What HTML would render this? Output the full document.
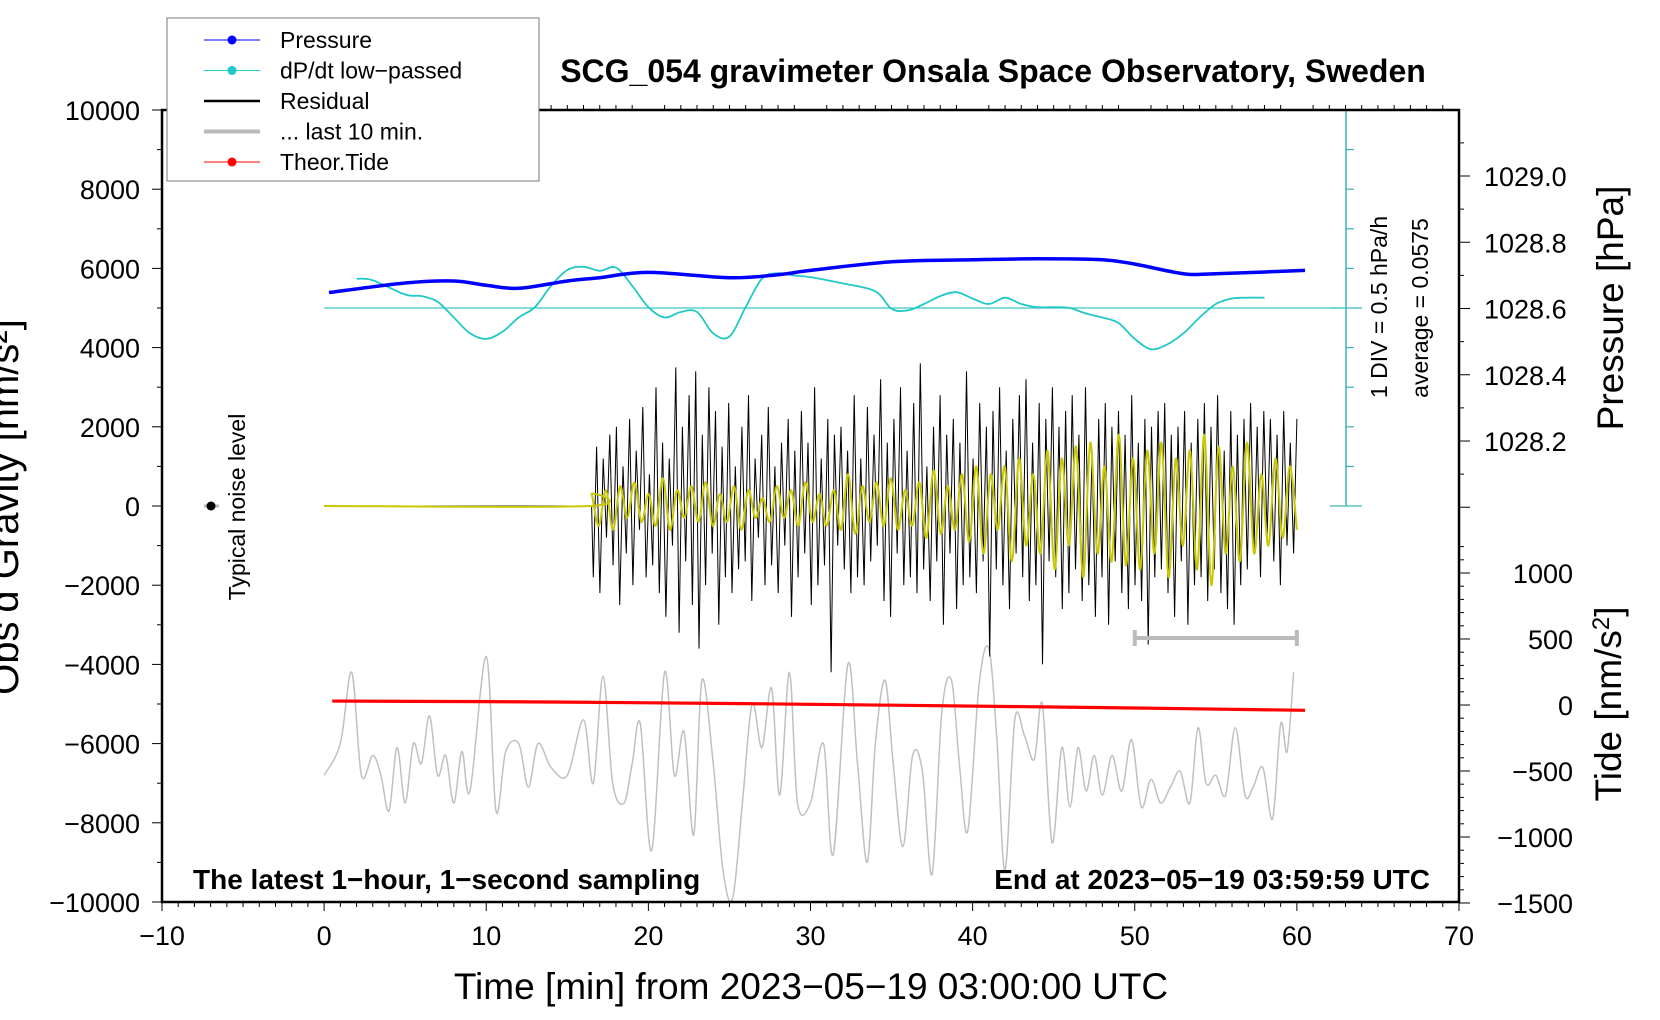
<!DOCTYPE html>
<html><head><meta charset="utf-8"><style>
html,body{margin:0;padding:0;background:#fff;}
svg{display:block;font-family:"Liberation Sans",Arial,sans-serif;}
</style></head><body>
<svg id="chart" width="1660" height="1020" viewBox="0 0 1660 1020"></svg>
<script>
// ---- data ----
const pressT = [0.3,5,8,10,12,15,17,20,25,28,30,35,40,44,48,50,53,55,60.5];
const pressV = [1028.648,1028.677,1028.683,1028.670,1028.661,1028.683,1028.693,1028.709,1028.693,1028.702,1028.715,1028.741,1028.747,1028.750,1028.747,1028.734,1028.705,1028.705,1028.715];
const dpdtT = [2,3,5,6,7,8,9,10,11,12,13,14,15,16,17,18,19,20,21,22,23,24,25,26,27,28,29,30,32,34,35,36,37,38,39,40,41,42,43,44,45,46,47,48,49,50,51,52,53,54,55,56,57,58];
const dpdtV = [0.37,0.35,0.17,0.15,0.08,-0.12,-0.32,-0.39,-0.30,-0.12,0.01,0.28,0.48,0.52,0.47,0.51,0.28,0.01,-0.12,-0.05,-0.05,-0.32,-0.36,0.01,0.37,0.44,0.41,0.39,0.31,0.21,-0.01,-0.03,0.05,0.15,0.20,0.12,0.05,0.13,0.05,0.01,0.01,0,-0.07,-0.12,-0.19,-0.39,-0.52,-0.46,-0.32,-0.12,0.05,0.12,0.13,0.13];
const residStart = 16.6, residEnd = 60.0;
const residV = [-18,15,-22,12,-8,18,-15,20,-25,10,-12,22,-20,14,-6,25,-18,8,-15,30,-22,16,-28,12,-10,35,-32,20,-14,28,-25,34,-36,18,-20,30,-12,24,-30,15,-18,26,-22,10,-16,20,-14,28,-24,12,-8,18,-20,25,-15,10,-22,16,-10,22,-28,14,-18,24,-12,16,-25,30,-20,12,-15,22,-42,18,-10,20,-16,14,-22,28,-18,12,-20,25,-14,18,-10,32,-24,16,-28,22,-12,30,-20,14,-18,26,-22,36,-16,10,-24,20,-14,28,-30,18,-12,22,-26,16,-20,34,-18,12,-22,26,-14,20,-38,24,-16,30,-20,14,-26,22,-12,28,-18,32,-24,16,-20,26,-40,22,-14,30,-18,20,-26,24,-22,28,-16,18,-24,30,-20,14,-28,22,-18,26,-30,20,-14,24,-22,18,-26,28,-20,16,-24,22,-35,20,-18,24,-16,26,-22,18,-28,20,-14,24,-30,16,-20,22,-18,26,-24,20,-16,28,-22,14,-26,24,-30,18,-20,22,-16,26,-12,20,-18,24,-8,22,-14,18,-20,24,-10,16,-12,22];
const lowV = [3,-5,4,-6,5,-3,6,-4,3,-5,7,-6,4,-3,5,-4,6,-5,3,-4,5,-6,4,-3,2,-4,5,-3,4,-5,6,-4,3,-5,4,-6,8,-7,5,-4,6,-5,7,-6,4,-5,6,-8,9,-7,5,-6,8,-9,10,-12,8,-6,10,-14,12,-10,8,-12,14,-16,12,-10,15,-18,16,-12,10,-14,18,-15,12,-16,14,-12,16,-18,12,-10,14,-16,18,-20,15,-12,10,-14,16,-12,8,-10,12,-8,10,-6];
const grayT = [0,1,1.7,2.3,3,3.5,4,4.5,5,5.5,6,6.5,7,7.5,8,8.5,9,10,10.6,11.2,12,12.6,13.2,14,15,16,16.6,17.2,17.8,18.5,19,19.5,20.2,21,21.6,22.2,22.8,23.3,24,24.6,25.2,25.8,26.4,27,27.6,28.1,28.7,29.2,30,30.8,31.4,32.3,32.9,33.5,34,34.6,35.1,35.7,36.3,36.9,37.5,38.1,38.7,39.2,39.7,40.4,41,41.5,42,42.6,43.2,43.8,44.3,44.9,45.5,46,46.5,47,47.5,48,48.6,49.2,49.8,50.4,51,51.6,52.2,52.8,53.4,53.9,54.4,55,55.6,56.2,56.8,57.3,57.9,58.5,59,59.4,59.8];
const grayV = [-6800,-6000,-4200,-6800,-6300,-6800,-7700,-6100,-7500,-6000,-6500,-5300,-6800,-6300,-7500,-6200,-7200,-3800,-7700,-6200,-6000,-7100,-6000,-6600,-6800,-5400,-7000,-4300,-7000,-7500,-6500,-5500,-8700,-4200,-6800,-5700,-8300,-4400,-6500,-9200,-9900,-7500,-5000,-6100,-4600,-7300,-4200,-7500,-7500,-6000,-8800,-4000,-6500,-9000,-6000,-4400,-6500,-8600,-6300,-6700,-9300,-5200,-4400,-6600,-8200,-4500,-3600,-5900,-9200,-5400,-5800,-6400,-5000,-8500,-6100,-7600,-6100,-7200,-6300,-7300,-6300,-7200,-5900,-7600,-6900,-7500,-7100,-6700,-7500,-5600,-7000,-6800,-7300,-5600,-7300,-7100,-6600,-7900,-5500,-6200,-4200];
const tideT = [0.5,15,30,45,60.5];
const tideV = [30,22,5,-15,-40];
const xTicks = [-10,0,10,20,30,40,50,60,70];
const yTicks = [-10000,-8000,-6000,-4000,-2000,0,2000,4000,6000,8000,10000];
const pTicks = ["1028.2","1028.4","1028.6","1028.8","1029.0"];
const tTicks = [-1500,-1000,-500,0,500,1000];

// ---- scales ----
const L=162,R=1459,T=110,B=902;
const X=t=>L+(t+10)*(R-L)/80;
const Y=g=>T+(10000-g)*(B-T)/20000;
const YP=p=>176+(1029.0-p)*(441-176)/0.8;
const YT=v=>903-(v+1500)*(903-573)/2500;
const YD=d=>Y(5000+d*2000);

const svg=document.getElementById('chart');
const NS='http://www.w3.org/2000/svg';
function el(tag,attrs,parent){const e=document.createElementNS(NS,tag);for(const k in attrs)e.setAttribute(k,attrs[k]);(parent||svg).appendChild(e);return e;}
function txt(s,attrs,parent){const e=el('text',attrs,parent);e.textContent=s;return e;}
function smooth(pts){let d='M'+pts[0][0]+','+pts[0][1];for(let i=0;i<pts.length-1;i++){const p0=pts[Math.max(0,i-1)],p1=pts[i],p2=pts[i+1],p3=pts[Math.min(pts.length-1,i+2)];const c1=[p1[0]+(p2[0]-p0[0])/6,p1[1]+(p2[1]-p0[1])/6],c2=[p2[0]-(p3[0]-p1[0])/6,p2[1]-(p3[1]-p1[1])/6];d+=' C'+c1[0].toFixed(1)+','+c1[1].toFixed(1)+' '+c2[0].toFixed(1)+','+c2[1].toFixed(1)+' '+p2[0].toFixed(1)+','+p2[1].toFixed(1);}return d;}
function poly(pts){return 'M'+pts.map(p=>p[0].toFixed(1)+','+p[1].toFixed(1)).join(' L');}

// cyan dP/dt axis
const cg=el('g',{});


el('line',{x1:1346,y1:T,x2:1346,y2:Y(0),stroke:'#3cb4b4','stroke-width':1.5},cg);
for(let i=0;i<=10;i++){const y=Y(10000-i*1000);const w=(i===0||i===10||i===5)?16:8;el('line',{x1:(i===0||i===10||i===5)?1330:1346,y1:y,x2:1346+w,y2:y,stroke:'#3cb4b4','stroke-width':1.2},cg);}
el('line',{x1:X(0),y1:Y(5000),x2:1346,y2:Y(5000),stroke:'#3cc8c8','stroke-width':1.2},cg);

// gray curve
const gp=el('path',{d:smooth(grayT.map((t,i)=>[X(t),Y(grayV[i])])),fill:'none',stroke:'#c0c0c0','stroke-width':1.5});



// residual black
const rpts=[[X(0),Y(0)],[X(residStart-0.1),Y(0)]];
residV.forEach((v,i)=>rpts.push([X(residStart+i*(residEnd-residStart)/(residV.length-1)),Y(v*100)]));
const rp=el('path',{d:poly(rpts),fill:'none',stroke:'#000','stroke-width':1});


// low-passed yellow
const ypts=[[X(0),Y(0)],[X(16.4),Y(0)]];
lowV.forEach((v,i)=>ypts.push([X(16.5+i*(60-16.5)/(lowV.length-1)),Y(v*100)]));
const yp=el('path',{d:smooth(ypts),fill:'none',stroke:'#c8c800','stroke-width':2});



// dP/dt cyan
const dp=el('path',{d:smooth(dpdtT.map((t,i)=>[X(t),YD(dpdtV[i])])),fill:'none',stroke:'#20c8c8','stroke-width':1.8});


// pressure
const pp=el('path',{d:smooth(pressT.map((t,i)=>[X(t),YP(pressV[i])])),fill:'none',stroke:'#0000ff','stroke-width':3.5});


// tide
const tp=el('path',{d:smooth(tideT.map((t,i)=>[X(t),YT(tideV[i])])),fill:'none',stroke:'#ff0000','stroke-width':3.2});



// 10-min bar
const bar=el('g',{stroke:'#bbb','stroke-width':4});


el('line',{x1:X(50),y1:638,x2:X(60),y2:638},bar);el('line',{x1:X(50),y1:630,x2:X(50),y2:646},bar);el('line',{x1:X(60),y1:630,x2:X(60),y2:646},bar);

// noise dot
el('line',{x1:204,y1:Y(0),x2:219,y2:Y(0),stroke:'#bbb','stroke-width':3});
const nd=el('circle',{cx:211,cy:Y(0),r:4.5,fill:'#000'});



// frame
const fr=el('rect',{x:L,y:T,width:R-L,height:B-T,fill:'none',stroke:'#000','stroke-width':2.5});



// x ticks
const xa=el('g',{});


for(let m=-10;m<=70;m++){const x=X(m);const maj=m%10===0;el('line',{x1:x,y1:B,x2:x,y2:B+(maj?9:5),stroke:'#000','stroke-width':1},xa);el('line',{x1:x,y1:T,x2:x,y2:T-(maj?0:5),stroke:'#000','stroke-width':1},xa);}
xTicks.forEach(v=>txt(String(v).replace('-','\u2212'),{x:X(v),y:B+43,'font-size':27,'text-anchor':'middle'},xa));
// y ticks
const ya=el('g',{});


for(let g=-10000;g<=10000;g+=1000){const maj=g%2000===0;el('line',{x1:L-(maj?10:5),y1:Y(g),x2:L,y2:Y(g),stroke:'#000'},ya);}
yTicks.forEach(v=>txt(String(v).replace('-','\u2212'),{x:140,y:Y(v)+10,'font-size':27,'text-anchor':'end'},ya));
// pressure ticks
const pa=el('g',{});


for(let i=0;i<=11;i++){const p=1029.1-i*0.1;const y=YP(p);if(y<T||y>508)continue;const maj=Math.round(p*10)%2===0;el('line',{x1:R,y1:y,x2:R+(maj?11:5),y2:y,stroke:'#000'},pa);}
pTicks.forEach(v=>txt(v,{x:1484,y:YP(parseFloat(v))+10,'font-size':27},pa));
// tide ticks
const ta=el('g',{});


for(let v=-1500;v<=1200;v+=100){const y=YT(v);if(y<520)continue;const maj=v%500===0;el('line',{x1:R,y1:y,x2:R+(maj?11:5),y2:y,stroke:'#000'},ta);}
tTicks.forEach(v=>txt(String(v).replace('-','\u2212'),{x:1573,y:YT(v)+10,'font-size':27,'text-anchor':'end'},ta));

// texts
let t;
t=txt('SCG_054 gravimeter Onsala Space Observatory, Sweden',{x:993,y:82,'font-size':32,'font-weight':'bold','text-anchor':'middle'});

t=txt('Time [min] from 2023\u221205\u221219 03:00:00 UTC',{x:811,y:999,'font-size':37,'text-anchor':'middle'});

t=txt('Obs\u2019d Gravity [nm/s\u00b2]',{x:0,y:0,'font-size':40,'text-anchor':'middle',transform:'translate(18,507) rotate(-90)'});

t=txt('Pressure [hPa]',{x:0,y:0,'font-size':37,'text-anchor':'middle',transform:'translate(1623,308) rotate(-90)'});

t=el('text',{x:0,y:0,'font-size':37,'text-anchor':'middle',transform:'translate(1621,704) rotate(-90)'});
t.innerHTML='Tide [nm/s<tspan dy="-12" font-size="24">2</tspan><tspan dy="12">]</tspan>';

t=txt('1 DIV = 0.5 hPa/h',{x:0,y:0,'font-size':23,'text-anchor':'middle',transform:'translate(1387,307) rotate(-90)'});

t=txt('average = 0.0575',{x:0,y:0,'font-size':23,'text-anchor':'middle',transform:'translate(1428,308) rotate(-90)'});

t=txt('Typical noise level',{x:0,y:0,'font-size':23,'text-anchor':'middle',transform:'translate(245,507) rotate(-90)'});

t=txt('The latest 1\u2212hour, 1\u2212second sampling',{x:193,y:889,'font-size':28,'font-weight':'bold'});

t=txt('End at 2023\u221205\u221219 03:59:59 UTC',{x:1430,y:889,'font-size':28,'font-weight':'bold','text-anchor':'end'});


// legend
const lg=el('g',{});


el('rect',{x:167,y:18,width:372,height:163,fill:'#fff',stroke:'#777','stroke-width':1},lg);
const legNames=['Pressure','dP/dt low\u2212passed','Residual','... last 10 min.','Theor.Tide'];
const legCols=['#0000ff','#20c8c8','#000','#bbb','#ff0000'];
const legDot=[true,true,false,false,true];
legNames.forEach((n,i)=>{const y=40+i*30.5;const g=el('g',{},lg);


el('line',{x1:204,y1:y,x2:260,y2:y,stroke:legCols[i],'stroke-width':legDot[i]?1:(i===2?2.5:4)},g);
if(legDot[i])el('circle',{cx:232,cy:y,r:4.5,fill:legCols[i]},g);
txt(n,{x:280,y:y+8,'font-size':23},g);});
</script>
</body></html>
